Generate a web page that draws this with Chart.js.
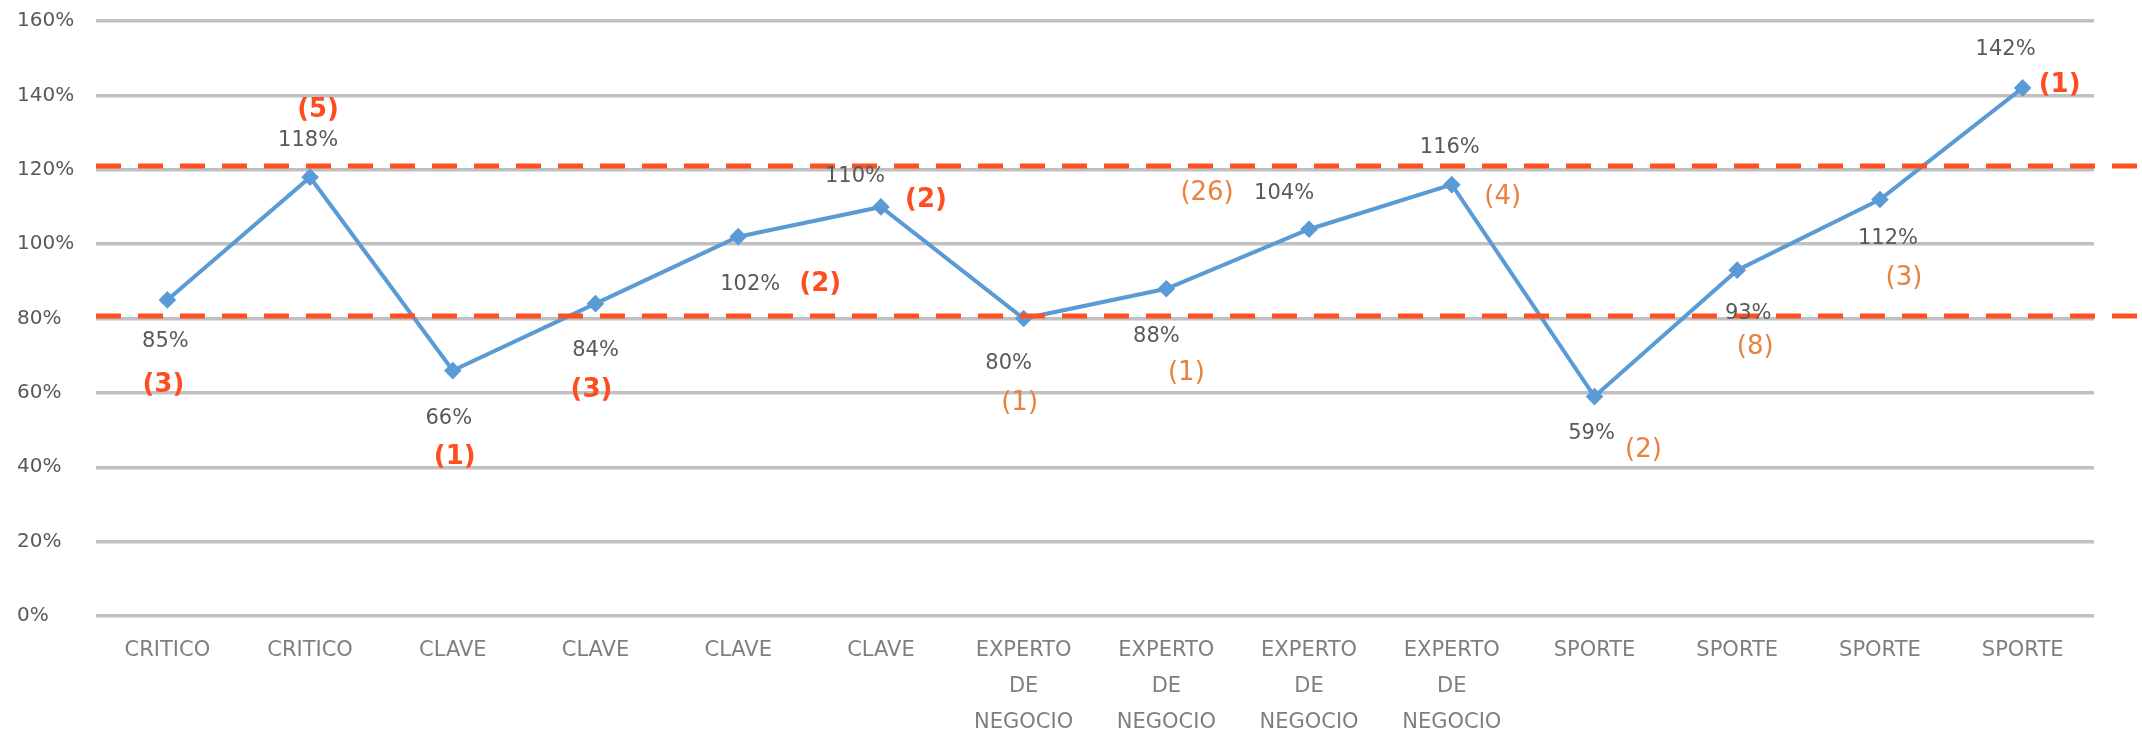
<!DOCTYPE html>
<html>
<head>
<meta charset="utf-8">
<script src="https://cdn.jsdelivr.net/npm/chart.js@4/dist/chart.umd.min.js"></script>
<style>
  body { margin: 0; background: #fff; }
</style>
</head>
<body>
<canvas id="myChart" width="2142" height="734"></canvas>
<script>
const categories = [
  "CRITICO", "CRITICO", "CLAVE", "CLAVE", "CLAVE", "CLAVE",
  ["EXPERTO", "DE", "NEGOCIO"], ["EXPERTO", "DE", "NEGOCIO"],
  ["EXPERTO", "DE", "NEGOCIO"], ["EXPERTO", "DE", "NEGOCIO"],
  "SPORTE", "SPORTE", "SPORTE", "SPORTE"
];
const percentValues = [85, 118, 66, 84, 102, 110, 80, 88, 104, 116, 59, 93, 112, 142];
const counts = [3, 5, 1, 3, 2, 2, 1, 1, 26, 4, 2, 8, 3, 1];
const yTicks = [0, 20, 40, 60, 80, 100, 120, 140, 160];
const limitLines = [80.7, 121];

// where each label sits relative to its point, and which colour the count uses
const pctOffsets = [[-2, 42], [-2, -37], [-4, 48], [0, 47], [12, 48], [-26, -30], [-15, 45],
  [-10, 48], [-25, -36], [-2, -37], [-3, 37], [11, 43], [8, 39], [-17, -38]];
const countOffsets = [[-4, 85], [8, -67], [2, 87], [-4, 87], [82, 48], [45, -7], [-4, 85],
  [20, 84], [-102, -36], [51, 13], [49, 54], [18, 77], [24, 79], [37, -3]];
const RED = "#ff4d1f";
const ORANGE = "#e8823f";
const countColors = [RED, RED, RED, RED, RED, RED, ORANGE, ORANGE, ORANGE, ORANGE, ORANGE, ORANGE, ORANGE, RED];

const limitPlugin = {
  id: "limits",
  afterDatasetsDraw(chart) {
    const { ctx, chartArea, scales } = chart;
    ctx.save();
    ctx.strokeStyle = "#ff5022";
    ctx.lineWidth = 5;
    ctx.setLineDash([25, 17]);
    limitLines.forEach((v) => {
      const y = scales.y.getPixelForValue(v);
      ctx.beginPath();
      ctx.moveTo(chartArea.left, y);
      ctx.lineTo(chart.width, y);
      ctx.stroke();
    });
    ctx.restore();
  }
};

const labelPlugin = {
  id: "pointLabels",
  afterDraw(chart) {
    const { ctx } = chart;
    const meta = chart.getDatasetMeta(0);
    ctx.save();
    ctx.textAlign = "center";
    ctx.textBaseline = "middle";
    meta.data.forEach((pt, i) => {
      ctx.font = "21px 'DejaVu Sans'";
      ctx.fillStyle = "#595959";
      ctx.fillText(percentValues[i] + "%", pt.x + pctOffsets[i][0], pt.y + pctOffsets[i][1]);
      ctx.font = (countColors[i] === RED ? "bold " : "") + "26px 'DejaVu Sans'";
      ctx.fillStyle = countColors[i];
      ctx.fillText("(" + counts[i] + ")", pt.x + countOffsets[i][0], pt.y + countOffsets[i][1]);
    });
    ctx.restore();
  }
};

const ctx = document.getElementById("myChart").getContext("2d");

new Chart(ctx, {
  type: "line",
  data: {
    labels: categories,
    datasets: [
      {
        data: percentValues,
        borderColor: "#5b9bd5",
        backgroundColor: "#5b9bd5",
        borderWidth: 4,
        pointStyle: "rectRot",
        pointRadius: 6,
        fill: false,
        tension: 0,
      },
    ],
  },
  options: {
    responsive: false,
    animation: false,
    layout: { padding: { left: 17, right: 48, top: 21, bottom: 0 } },
    plugins: {
      legend: { display: false },
      tooltip: { enabled: false },
    },
    scales: {
      x: {
        offset: true,
        grid: { display: false },
        border: { display: false },
        ticks: {
          color: "#7f7f7f",
          font: { family: "DejaVu Sans", size: 21, lineHeight: 1.7 },
          padding: 9,
          maxRotation: 0,
          autoSkip: false,
        },
        afterFit: (scale) => { scale.height = 118; },
      },
      y: {
        min: 0,
        max: 160,
        afterBuildTicks: (scale) => { scale.ticks = yTicks.map((v) => ({ value: v })); },
        grid: { color: "#c0c0c0", lineWidth: 3.5, drawTicks: false },
        border: { display: false },
        ticks: {
          color: "#595959",
          crossAlign: "far",
          font: { family: "DejaVu Sans", size: 20 },
          callback: (v) => v + "%",
        },
        afterFit: (scale) => { scale.width = 79; },
      },
    },
  },
  plugins: [limitPlugin, labelPlugin],
});
</script>
</body>
</html>
